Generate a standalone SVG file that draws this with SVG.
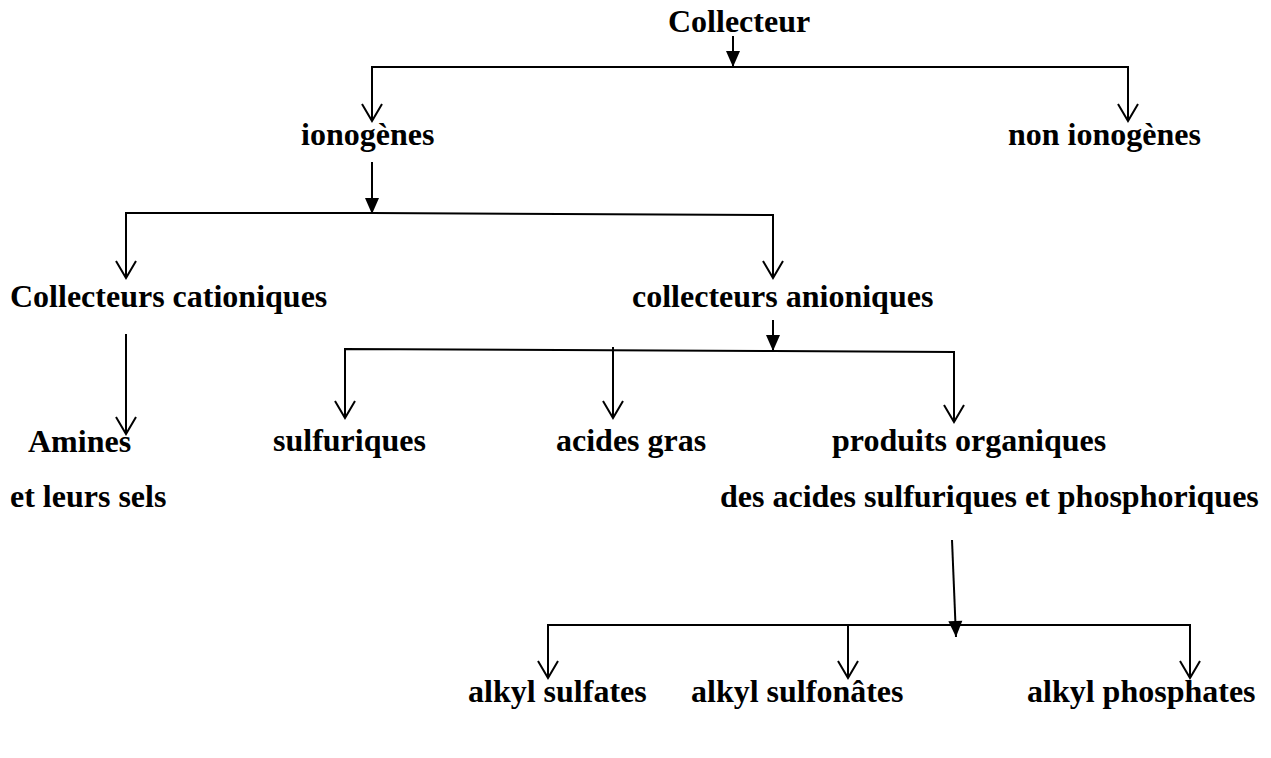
<svg xmlns="http://www.w3.org/2000/svg" width="1271" height="758" viewBox="0 0 1271 758">
<style>
text{font-family:"Liberation Serif","Times New Roman",serif;font-weight:bold;font-size:32px;fill:#000}
.c{fill:none;stroke:#000;stroke-width:2}
.o{marker-end:url(#open)}
.f{marker-end:url(#filled)}
</style>
<defs>
<marker id="open" markerUnits="userSpaceOnUse" viewBox="-20 -12 22 24" markerWidth="22" markerHeight="24" refX="0" refY="0" orient="auto" overflow="visible">
<path d="M-17,-10 L0,0 L-17,10" fill="none" stroke="#000" stroke-width="2"/>
</marker>
<marker id="filled" markerUnits="userSpaceOnUse" viewBox="-18 -9 20 18" markerWidth="20" markerHeight="18" refX="0" refY="0" orient="auto" overflow="visible">
<path d="M0,0 L-16,-7 L-16,7 Z" fill="#000"/>
</marker>
</defs>
<rect width="1271" height="758" fill="#fff"/>
<g id="connectors">
<path class="c f" d="M733,36 V67"/>
<path class="c o" d="M733,67 H372 V121"/>
<path class="c o" d="M733,67 H1128 V121"/>
<path class="c f" d="M372,162 V214"/>
<path class="c o" d="M372,213 H126 V278"/>
<path class="c o" d="M372,213 L773,215 V278"/>
<path class="c o" d="M126,334 V434"/>
<path class="c f" d="M773,320 V351"/>
<path class="c o" d="M773,351 L345,349 V418"/>
<path class="c o" d="M613,347 V418"/>
<path class="c o" d="M773,351 L954,352 V422"/>
<path class="c f" d="M952,540 L956,637"/>
<path class="c o" d="M956,625 H548 V678"/>
<path class="c o" d="M848,625 V678"/>
<path class="c o" d="M956,625 H1190 V678"/>
</g>
<g id="n-collecteur"><text x="668" y="32">Collecteur</text></g>
<g id="n-ionogenes"><text x="301" y="145">ionogènes</text></g>
<g id="n-non-ionogenes"><text x="1008" y="145">non ionogènes</text></g>
<g id="n-cationiques"><text x="10" y="307">Collecteurs cationiques</text></g>
<g id="n-anioniques"><text x="632" y="307">collecteurs anioniques</text></g>
<g id="n-amines"><text x="28" y="452">Amines</text><text x="10" y="507">et leurs sels</text></g>
<g id="n-sulfuriques"><text x="273" y="451">sulfuriques</text></g>
<g id="n-acides-gras"><text x="556" y="451">acides gras</text></g>
<g id="n-produits"><text x="832" y="451">produits organiques</text><text x="720" y="507">des acides sulfuriques et phosphoriques</text></g>
<g id="n-alkyl-sulfates"><text x="468" y="702">alkyl sulfates</text></g>
<g id="n-alkyl-sulfonates"><text x="691" y="702">alkyl sulfonâtes</text></g>
<g id="n-alkyl-phosphates"><text x="1027" y="702">alkyl phosphates</text></g>
</svg>
